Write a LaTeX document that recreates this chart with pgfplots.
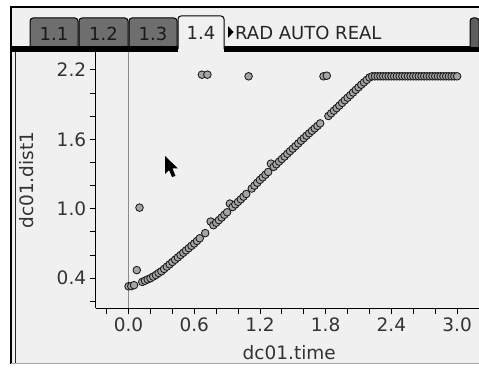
\documentclass[border=0pt]{standalone}
\usepackage{fontspec}
\setmainfont{DejaVu Sans}
\usepackage{pgfplots}
\pgfplotsset{compat=1.18}
\definecolor{bg}{HTML}{F0F0F0}
\definecolor{tabgray}{HTML}{6E6E6E}
\definecolor{markgray}{HTML}{A4A4A4}
\definecolor{zeroline}{HTML}{8C8C8C}
\pgfplotstableread{
t y
0.000 0.330
0.025 0.332
0.050 0.340
0.075 0.470
0.100 1.010
0.125 0.368
0.150 0.378
0.175 0.390
0.200 0.400
0.225 0.414
0.250 0.428
0.275 0.445
0.300 0.460
0.325 0.480
0.350 0.500
0.375 0.520
0.400 0.540
0.425 0.560
0.450 0.580
0.475 0.600
0.500 0.620
0.525 0.640
0.550 0.660
0.575 0.680
0.600 0.700
0.625 0.722
0.650 0.745
0.670 2.159
0.700 0.790
0.720 2.159
0.750 0.890
0.775 0.858
0.800 0.880
0.825 0.902
0.850 0.925
0.875 0.948
0.900 0.970
0.925 1.045
0.950 1.015
0.975 1.038
1.000 1.060
1.025 1.082
1.050 1.105
1.075 1.128
1.096 2.145
1.125 1.175
1.150 1.200
1.175 1.225
1.200 1.250
1.225 1.272
1.250 1.295
1.275 1.318
1.300 1.390
1.325 1.362
1.350 1.385
1.375 1.408
1.400 1.430
1.425 1.452
1.450 1.475
1.475 1.498
1.500 1.520
1.525 1.542
1.550 1.565
1.575 1.588
1.600 1.610
1.625 1.632
1.650 1.653
1.675 1.674
1.700 1.695
1.725 1.716
1.750 1.738
1.780 2.145
1.810 2.150
1.825 1.802
1.850 1.825
1.875 1.848
1.900 1.870
1.925 1.892
1.950 1.915
1.975 1.938
2.000 1.960
2.025 1.982
2.050 2.005
2.075 2.028
2.100 2.050
2.125 2.072
2.150 2.093
2.175 2.114
2.200 2.135
2.225 2.145
2.250 2.145
2.275 2.145
2.300 2.145
2.325 2.145
2.350 2.145
2.375 2.145
2.400 2.145
2.425 2.145
2.450 2.145
2.475 2.145
2.500 2.145
2.525 2.145
2.550 2.145
2.575 2.145
2.600 2.145
2.625 2.145
2.650 2.145
2.675 2.145
2.700 2.145
2.725 2.145
2.750 2.145
2.775 2.145
2.800 2.145
2.825 2.145
2.850 2.145
2.875 2.145
2.900 2.145
2.925 2.145
2.950 2.145
2.975 2.145
3.000 2.145
}\datatable
\begin{document}
\begin{tikzpicture}
\path[use as bounding box] (0pt,0pt) rectangle (479pt,367pt);
% screen background
\fill[white] (0pt,0pt) rectangle (479pt,367pt);
\fill[bg] (11pt,3pt) rectangle (479pt,360pt);
% frame
\draw[black, line width=1.5pt] (10pt,360pt) -- (479pt,360pt);
\draw[black, line width=1.2pt] (11pt,360pt) -- (11pt,3pt);
\draw[black!85, line width=1pt] (15pt,315pt) -- (15pt,3pt);
\draw[black!35, line width=1pt] (11pt,3.5pt) -- (479pt,3.5pt);
% tabs
\foreach \xa/\xb/\lab in {30/78/1.1, 79/128/1.2, 129/177/1.3}{
  \filldraw[fill=tabgray, draw=black, line width=1pt, rounded corners=3pt]
    (\xa pt,316pt) -- (\xa pt,349pt) -- (\xb pt,349pt) -- (\xb pt,316pt);
  \node[font=\fontsize{18}{20}\selectfont, text=black!90] at ({(\xa+\xb)/2*1pt},333pt) {\lab};
}
\fill[black] (10pt,315pt) rectangle (178pt,320.5pt);
\fill[black] (224pt,315pt) rectangle (479pt,320.5pt);
\filldraw[fill=bg, draw=black, line width=1pt, rounded corners=3pt]
  (178pt,318pt) -- (178pt,351pt) -- (224pt,351pt) -- (224pt,318pt);
\node[font=\fontsize{18}{20}\selectfont, text=black!85] at (201pt,334pt) {1.4};
\fill[black] (228pt,341pt) -- (233.5pt,335pt) -- (228pt,329pt) -- cycle;
\node[font=\fontsize{18}{20}\selectfont, text=black!85, anchor=west, inner sep=0pt] at (235pt,334pt) {RAD AUTO REAL};
\filldraw[fill=tabgray!85!black, draw=black, line width=1pt, rounded corners=3pt]
  (470pt,320pt) -- (470pt,349pt) -- (479pt,349pt) -- (479pt,320pt);
\begin{axis}[
  at={(95.7pt,58.7pt)}, anchor=south west, scale only axis,
  width=383.3pt, height=256.3pt,
  xmin=-0.3, xmax=3.2, ymin=0.14, ymax=2.355,
  axis lines*=left,
  axis line style={black, line width=1.3pt},
  tick align=outside,
  major tick length=6pt, minor tick length=6pt,
  every tick/.style={black, line width=0.9pt},
  xtick={0,0.6,1.2,1.8,2.4,3.0},
  minor xtick={-0.2,0.2,0.4,0.8,1.0,1.4,1.6,2.0,2.2,2.6,2.8,3.2},
  ytick={0.4,1.0,1.6,2.2},
  minor ytick={0.2,0.6,0.8,1.2,1.4,1.8,2.0},
  /pgf/number format/assume math mode=true,
  xticklabel style={/pgf/number format/fixed, /pgf/number format/fixed zerofill, /pgf/number format/precision=1},
  yticklabel style={/pgf/number format/fixed, /pgf/number format/fixed zerofill, /pgf/number format/precision=1},
  tick label style={font=\fontsize{18.5}{22}\selectfont, text=black!80},
  label style={font=\fontsize{18.5}{22}\selectfont, text=black!80},
  xlabel={dc01.time},
  xlabel style={at={(axis description cs:0.505,-0.198)}, anchor=base},
  ylabel={dc01.dist1},
  ylabel style={at={(axis description cs:-0.162,0.5)}, anchor=base},
  clip=false,
]
\draw[zeroline, line width=0.9pt] (axis cs:0,0.14) -- (axis cs:0,2.355);
\addplot[only marks, mark=*, mark size=3.8pt,
  mark options={fill=markgray, draw=black!90, line width=0.85pt}]
  table[x=t, y=y] {\datatable};
\end{axis}
% mouse cursor
\fill[black] (165pt,211pt) -- (165pt,193pt) -- (169pt,197pt) -- (172pt,190pt)
  -- (175.5pt,191pt) -- (172.5pt,198.5pt) -- (178pt,198.5pt) -- cycle;
\end{tikzpicture}
\end{document}
